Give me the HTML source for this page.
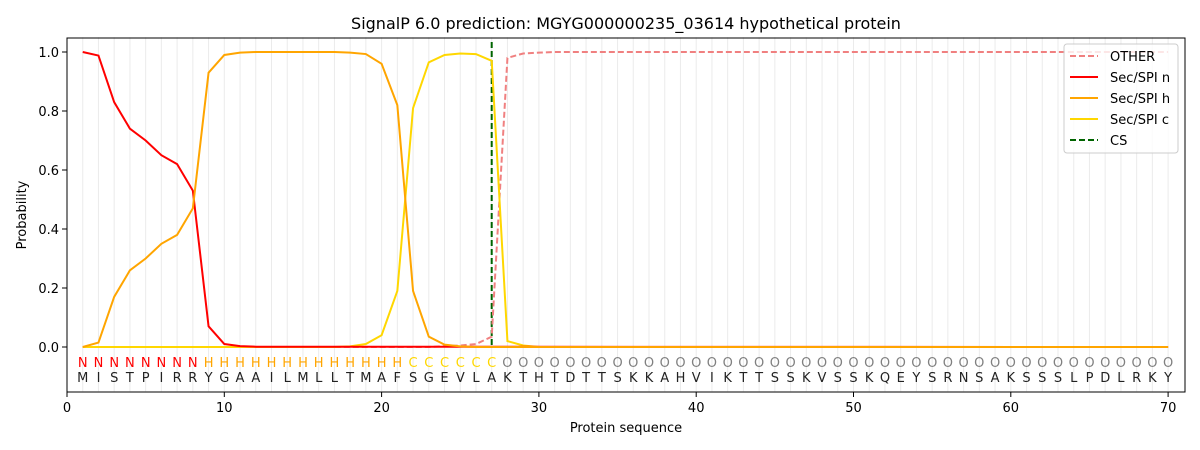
<!DOCTYPE html><html><head><meta charset="utf-8"><style>body{margin:0;background:#fff}svg{display:block;font-family:"DejaVu Sans","Liberation Sans",sans-serif}</style></head><body>
<svg width="1200" height="450" viewBox="0 0 1200 450">
<text x="626" y="29" font-size="16" text-anchor="middle">SignalP 6.0 prediction: MGYG000000235_03614 hypothetical protein</text>
<g transform="translate(67,347) scale(15.73,-295)" fill="none">
<path vector-effect="non-scaling-stroke" stroke="#ebebeb" stroke-width="1" d="M1 -0.15V1.05M2 -0.15V1.05M3 -0.15V1.05M4 -0.15V1.05M5 -0.15V1.05M6 -0.15V1.05M7 -0.15V1.05M8 -0.15V1.05M9 -0.15V1.05M10 -0.15V1.05M11 -0.15V1.05M12 -0.15V1.05M13 -0.15V1.05M14 -0.15V1.05M15 -0.15V1.05M16 -0.15V1.05M17 -0.15V1.05M18 -0.15V1.05M19 -0.15V1.05M20 -0.15V1.05M21 -0.15V1.05M22 -0.15V1.05M23 -0.15V1.05M24 -0.15V1.05M25 -0.15V1.05M26 -0.15V1.05M27 -0.15V1.05M28 -0.15V1.05M29 -0.15V1.05M30 -0.15V1.05M31 -0.15V1.05M32 -0.15V1.05M33 -0.15V1.05M34 -0.15V1.05M35 -0.15V1.05M36 -0.15V1.05M37 -0.15V1.05M38 -0.15V1.05M39 -0.15V1.05M40 -0.15V1.05M41 -0.15V1.05M42 -0.15V1.05M43 -0.15V1.05M44 -0.15V1.05M45 -0.15V1.05M46 -0.15V1.05M47 -0.15V1.05M48 -0.15V1.05M49 -0.15V1.05M50 -0.15V1.05M51 -0.15V1.05M52 -0.15V1.05M53 -0.15V1.05M54 -0.15V1.05M55 -0.15V1.05M56 -0.15V1.05M57 -0.15V1.05M58 -0.15V1.05M59 -0.15V1.05M60 -0.15V1.05M61 -0.15V1.05M62 -0.15V1.05M63 -0.15V1.05M64 -0.15V1.05M65 -0.15V1.05M66 -0.15V1.05M67 -0.15V1.05M68 -0.15V1.05M69 -0.15V1.05M70 -0.15V1.05"/>
</g>
<line x1="491.7" y1="42" x2="491.7" y2="348" stroke="#006400" stroke-width="2" stroke-dasharray="6,3"/>
<g transform="translate(67,347) scale(15.73,-295)" fill="none">
<polyline vector-effect="non-scaling-stroke" stroke="#f08080" stroke-width="2" stroke-dasharray="6,3" points="1,0 23,0 24,0.003 25,0.005 26,0.01 27,0.035 28,0.98 29,0.995 30,0.998 31,1 70,1"/>
<polyline vector-effect="non-scaling-stroke" stroke="#ffd700" stroke-width="2" points="1,0 17,0 18,0.002 19,0.01 20,0.04 21,0.19 22,0.81 23,0.965 24,0.99 25,0.995 26,0.993 27,0.97 28,0.02 29,0.005 30,0 70,0"/>
<polyline vector-effect="non-scaling-stroke" stroke="#ff0000" stroke-width="2" points="1,1 2,0.988 3,0.83 4,0.74 5,0.70 6,0.65 7,0.62 8,0.53 9,0.07 10,0.01 11,0.003 12,0.001 70,0"/>
<polyline vector-effect="non-scaling-stroke" stroke="#ffa500" stroke-width="2" points="1,0 2,0.015 3,0.17 4,0.26 5,0.30 6,0.35 7,0.38 8,0.47 9,0.93 10,0.99 11,0.998 12,1 17,1 18,0.998 19,0.993 20,0.96 21,0.82 22,0.19 23,0.035 24,0.008 25,0.002 26,0 70,0"/>
</g>
<rect x="67" y="38" width="1118" height="354" fill="none" stroke="#000" stroke-width="1"/>
<g stroke="#000"><path d="M67 392v5M224.3 392v5M381.6 392v5M538.9 392v5M696.2 392v5M853.5 392v5M1010.8 392v5M1168.1 392v5M67 347h-5M67 288h-5M67 229h-5M67 170h-5M67 111h-5M67 52h-5"/></g>
<g font-size="13" text-anchor="middle"><text x="67" y="412">0</text><text x="224.3" y="412">10</text><text x="381.6" y="412">20</text><text x="538.9" y="412">30</text><text x="696.2" y="412">40</text><text x="853.5" y="412">50</text><text x="1010.8" y="412">60</text><text x="1168.1" y="412">70</text><text x="626" y="432">Protein sequence</text></g>
<g font-size="13" text-anchor="end"><text x="59" y="352">0.0</text><text x="59" y="293">0.2</text><text x="59" y="234">0.4</text><text x="59" y="175">0.6</text><text x="59" y="116">0.8</text><text x="59" y="57">1.0</text></g>
<text transform="translate(26,215) rotate(-90)" font-size="13" text-anchor="middle">Probability</text>
<g font-size="13" text-anchor="middle">
<text y="367" fill="#ff0000" x="82.7 98.5 114.2 129.9 145.7 161.4 177.1 192.8">NNNNNNNN</text>
<text y="367" fill="#ffa500" x="208.6 224.3 240.0 255.8 271.5 287.2 303.0 318.7 334.4 350.1 365.9 381.6 397.3">HHHHHHHHHHHHH</text>
<text y="367" fill="#ffd700" x="413.1 428.8 444.5 460.3 476.0 491.7">CCCCCC</text>
<text y="367" fill="#808080" x="507.4 523.2 538.9 554.6 570.4 586.1 601.8 617.6 633.3 649.0 664.7 680.5 696.2 711.9 727.7 743.4 759.1 774.9 790.6 806.3 822.0 837.8 853.5 869.2 885.0 900.7 916.4 932.2 947.9 963.6 979.3 995.1 1010.8 1026.5 1042.3 1058.0 1073.7 1089.5 1105.2 1120.9 1136.6 1152.4 1168.1">OOOOOOOOOOOOOOOOOOOOOOOOOOOOOOOOOOOOOOOOOOO</text>
<text y="382" fill="#222" x="82.7 98.5 114.2 129.9 145.7 161.4 177.1 192.8 208.6 224.3 240.0 255.8 271.5 287.2 303.0 318.7 334.4 350.1 365.9 381.6 397.3 413.1 428.8 444.5 460.3 476.0 491.7 507.4 523.2 538.9 554.6 570.4 586.1 601.8 617.6 633.3 649.0 664.7 680.5 696.2 711.9 727.7 743.4 759.1 774.9 790.6 806.3 822.0 837.8 853.5 869.2 885.0 900.7 916.4 932.2 947.9 963.6 979.3 995.1 1010.8 1026.5 1042.3 1058.0 1073.7 1089.5 1105.2 1120.9 1136.6 1152.4 1168.1">MISTPIRRYGAAILMLLTMAFSGEVLAKTHTDTTSKKAHVIKTTSSKVSSKQEYSRNSAKSSSLPDLRKY</text>
</g>
<rect x="1064" y="44" width="114" height="109" rx="3" fill="#fff" fill-opacity="0.8" stroke="#ccc"/>
<g stroke-width="2"><line x1="1070" y1="56" x2="1098" y2="56" stroke="#f08080" stroke-dasharray="6,3"/><line x1="1070" y1="77" x2="1098" y2="77" stroke="#ff0000"/><line x1="1070" y1="98" x2="1098" y2="98" stroke="#ffa500"/><line x1="1070" y1="119" x2="1098" y2="119" stroke="#ffd700"/><line x1="1070" y1="140" x2="1098" y2="140" stroke="#006400" stroke-dasharray="6,3"/></g>
<g font-size="13"><text x="1110" y="61">OTHER</text><text x="1110" y="82">Sec/SPI n</text><text x="1110" y="103">Sec/SPI h</text><text x="1110" y="124">Sec/SPI c</text><text x="1110" y="145">CS</text></g>
</svg></body></html>
